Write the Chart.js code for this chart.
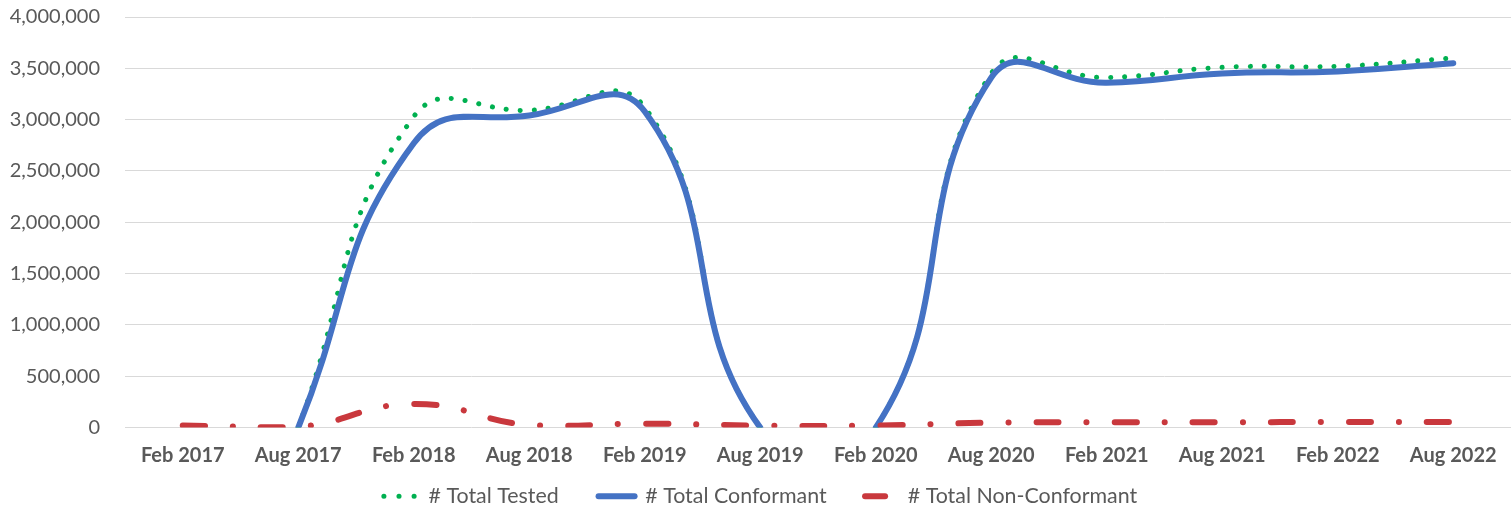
<!DOCTYPE html>
<html><head><meta charset="utf-8">
<script src="https://cdn.jsdelivr.net/npm/chart.js@4.4.1/dist/chart.umd.min.js"></script>
<style>html,body{margin:0;padding:0;background:#fff;overflow:hidden}#wrap{width:1511px;height:508px;position:relative}</style>
</head><body><div id="wrap"><canvas id="c" width="1511" height="508"></canvas></div>
<script>
const categories = ['Feb 2017','Aug 2017','Feb 2018','Aug 2018','Feb 2019','Aug 2019','Feb 2020','Aug 2020','Feb 2021','Aug 2021','Feb 2022','Aug 2022'];
const totalTested = [null, 0, 3030000, 3090000, 3120000, 0, 0, 3450000, 3410000, 3510000, 3520000, 3600000];
const totalConformant = [null, 0, 2770000, 3040000, 3080000, 0, 0, 3410000, 3360000, 3450000, 3470000, 3550000];
const totalNonConformant = [20000, 5000, 230000, 25000, 38000, 20000, 20000, 48000, 52000, 52000, 55000, 55000];
const yTickValues = [0, 500000, 1000000, 1500000, 2000000, 2500000, 3000000, 3500000, 4000000];
const seriesNames = ['# Total Tested', '# Total Conformant', '# Total Non-Conformant'];

const FONT = 'Lato, "Open Sans", sans-serif';
const TEXT = '#595959';
const GREEN = '#00B050', BLUE = '#4472C4', RED = '#C9383D';
const TENSION = 0.47;

const hideFlatZero = ctx => (ctx.p0.parsed.y === 0 && ctx.p1.parsed.y === 0) ? 'rgba(0,0,0,0)' : undefined;

const NB = '\u00A0';
const legendStyles = [
  {lineWidth: 5, lineDash: [0.1, 15], offset: -10, gap: NB.repeat(4)},
  {lineWidth: 6, lineDash: [36, 100], offset: -8, gap: NB.repeat(3)},
  {lineWidth: 6, lineDash: [20, 100], offset: -12, gap: ''}
];

new Chart(document.getElementById('c'), {
  type: 'line',
  data: {
    labels: categories,
    datasets: [
      {label: seriesNames[0], data: totalTested, borderColor: GREEN, backgroundColor: GREEN,
       borderWidth: 5, borderDash: [0.1, 13.9], borderCapStyle: 'round', tension: TENSION,
       pointRadius: 0, order: 2, segment: {borderColor: hideFlatZero}},
      {label: seriesNames[1], data: totalConformant, borderColor: BLUE, backgroundColor: BLUE,
       borderWidth: 6, borderCapStyle: 'round', borderJoinStyle: 'round', tension: TENSION,
       pointRadius: 0, order: 1, segment: {borderColor: hideFlatZero}},
      {label: seriesNames[2], data: totalNonConformant, borderColor: RED, backgroundColor: RED,
       borderWidth: 6, borderDash: [22, 28, 0.1, 28], borderCapStyle: 'round', tension: TENSION,
       pointRadius: 0, order: 0}
    ]
  },
  options: {
    responsive: false,
    animation: false,
    devicePixelRatio: 1,
    layout: {padding: {top: 17, right: 0, left: 0, bottom: -9}},
    scales: {
      x: {
        offset: true,
        grid: {display: false},
        border: {display: false},
        ticks: {color: TEXT, font: {family: FONT, size: 20, weight: 'bold'}, padding: 8, maxRotation: 0, autoSkip: false}
      },
      y: {
        min: 0, max: 4000000,
        afterBuildTicks: s => { s.ticks = yTickValues.map(v => ({value: v})); },
        afterFit: s => { s.width = 125; },
        grid: {color: '#D9D9D9', lineWidth: 1, drawTicks: true, tickLength: 25, tickColor: 'rgba(0,0,0,0)'},
        border: {display: false},
        ticks: {color: TEXT, font: {family: FONT, size: 20}, padding: 0,
                callback: v => Number(v).toLocaleString('en-US')}
      }
    },
    plugins: {
      tooltip: {enabled: false},
      legend: {
        position: 'bottom',
        labels: {
          color: TEXT, font: {family: FONT, size: 21.4}, usePointStyle: true, pointStyleWidth: 44,
          boxHeight: 8, padding: 10,
          generateLabels: chart => chart.data.datasets.map((ds, i) => ({
            text: ds.label + legendStyles[i].gap, fillStyle: ds.borderColor, strokeStyle: ds.borderColor,
            lineWidth: legendStyles[i].lineWidth, lineDash: legendStyles[i].lineDash,
            lineDashOffset: legendStyles[i].offset, lineCap: 'round', pointStyle: 'line',
            hidden: !chart.isDatasetVisible(i), datasetIndex: i, fontColor: TEXT
          }))
        }
      }
    }
  }
});
</script></body></html>
